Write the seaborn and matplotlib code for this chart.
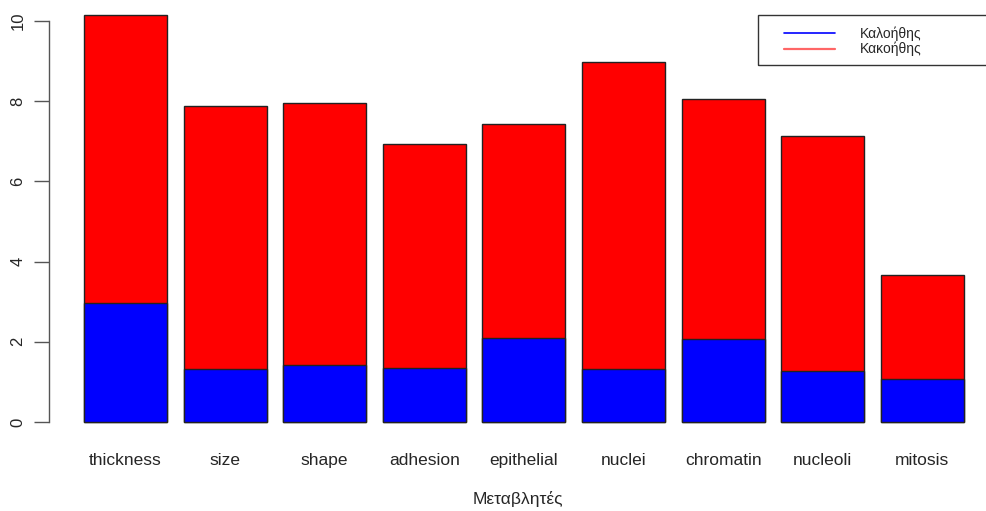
import matplotlib
matplotlib.use('Agg')
import matplotlib.pyplot as plt
from matplotlib.lines import Line2D
from matplotlib.patches import Rectangle
import seaborn as sns
import pandas as pd

variables = ['thickness', 'size', 'shape', 'adhesion', 'epithelial',
             'nuclei', 'chromatin', 'nucleoli', 'mitosis']
benign = [2.96, 1.31, 1.41, 1.35, 2.09, 1.33, 2.06, 1.26, 1.06]
malignant = [7.19, 6.57, 6.55, 5.57, 5.33, 7.65, 5.99, 5.86, 2.60]
legend_labels = ['Καλοήθης', 'Κακοήθης']

df = pd.DataFrame({'variable': variables, 'benign': benign, 'malignant': malignant})
df['total'] = df['benign'] + df['malignant']

sns.set_style('white')
plt.rcParams['font.family'] = ['Liberation Sans', 'DejaVu Sans']

W, H = 987, 511
fig = plt.figure(figsize=(W / 100, H / 100), dpi=100)
# axes placed in pixel terms to mimic R's barplot layout
ax = fig.add_axes([49 / W, (H - 438) / H, (W - 49) / W, 438 / H])

sns.barplot(data=df, x='variable', y='total', color='red', saturation=1,
            width=0.833, edgecolor='#222222', linewidth=1, ax=ax)
sns.barplot(data=df, x='variable', y='benign', color='blue', saturation=1,
            width=0.833, edgecolor='#222222', linewidth=1, ax=ax)

ax.set_xlim(-0.768, 8.65)
ax.set_ylim(-0.4, 10.52)

for s in ['top', 'right', 'bottom']:
    ax.spines[s].set_visible(False)
ax.spines['left'].set_bounds(0, 10)
ax.spines['left'].set_color('#555555')
ax.spines['left'].set_linewidth(1)

ax.set_yticks([0, 2, 4, 6, 8, 10])
ax.tick_params(axis='y', left=True, length=11, width=1, color='#555555',
               labelsize=12, pad=6, labelrotation=90)
for lab in ax.get_yticklabels():
    lab.set_va('center')
ax.tick_params(axis='x', bottom=False, labelsize=12.5, pad=7)
ax.set_ylabel('')
ax.set_xlabel('Μεταβλητές', fontsize=12.5, labelpad=17)

# legend box, extends past the right edge like the original
fig.patches.append(Rectangle((758 / W, (H - 65) / H), 260 / W, 50 / H,
                             transform=fig.transFigure, fill=False,
                             edgecolor='#333333', linewidth=1))
handles = [Line2D([], [], color='blue', lw=1.2),
           Line2D([], [], color='#ff6666', lw=1.6)]
fig.legend(handles, legend_labels, loc='upper left',
           bbox_to_anchor=(774 / W, 1 - 17 / H), frameon=False,
           fontsize=10, handlelength=3.7, handletextpad=1.8,
           labelspacing=0.05, borderpad=0.2)

fig.savefig('out.png', dpi=100)
